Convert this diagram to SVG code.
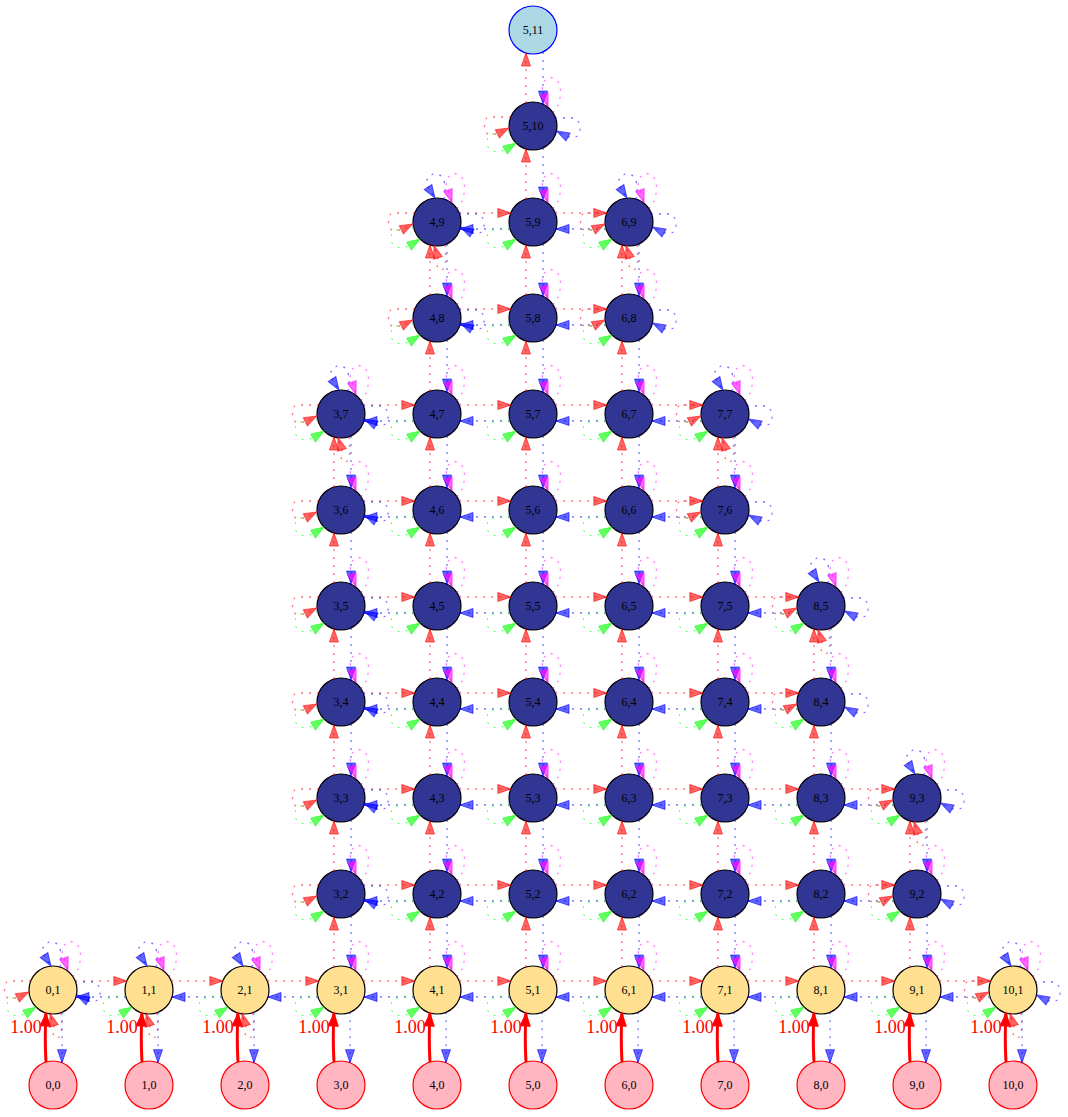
<svg xmlns="http://www.w3.org/2000/svg" xmlns:xlink="http://www.w3.org/1999/xlink" width="1068" height="1117" viewBox="0 0 1068 1117">
<style>
.e{fill:none;stroke-width:1.3;stroke-dasharray:2,6;stroke-opacity:0.55}
.r{stroke:#ff0000;marker-end:url(#mr)}
.b{stroke:#0000ff;marker-end:url(#mb)}
.g{stroke:#00ff00;marker-end:url(#mg)}
.m{stroke:#ff00ff;marker-end:url(#mm)}
.t{fill:none;stroke:#ff0000;stroke-width:3;marker-end:url(#mt)}
circle{stroke:#000;stroke-width:1.2}
.nav{fill:#313695}
.yel{fill:#fee090}
.src{fill:#ffb6c1;stroke:#ff0000}
.tgt{fill:#add8e6;stroke:#0000ff}
text{font-family:"Liberation Serif","Times New Roman",serif;font-size:12px;text-anchor:middle;fill:#000}
.lbl{fill:#ff0000;font-size:18px}
</style>
<defs>
<marker id="mr" viewBox="0 -5 13 10" refX="13" refY="0" markerWidth="13" markerHeight="10" markerUnits="userSpaceOnUse" orient="auto" overflow="visible"><path d="M0,-4.5L13,0L0,4.5Z" fill="#ff0000" fill-opacity="0.6" stroke="#ff0000" stroke-opacity="0.6"/></marker>
<marker id="mb" viewBox="0 -5 13 10" refX="13" refY="0" markerWidth="13" markerHeight="10" markerUnits="userSpaceOnUse" orient="auto" overflow="visible"><path d="M0,-4.5L13,0L0,4.5Z" fill="#0000ff" fill-opacity="0.6" stroke="#0000ff" stroke-opacity="0.6"/></marker>
<marker id="mg" viewBox="0 -5 13 10" refX="13" refY="0" markerWidth="13" markerHeight="10" markerUnits="userSpaceOnUse" orient="auto" overflow="visible"><path d="M0,-4.5L13,0L0,4.5Z" fill="#00ff00" fill-opacity="0.6" stroke="#00ff00" stroke-opacity="0.6"/></marker>
<marker id="mm" viewBox="0 -5 13 10" refX="13" refY="0" markerWidth="13" markerHeight="10" markerUnits="userSpaceOnUse" orient="auto" overflow="visible"><path d="M0,-4.5L13,0L0,4.5Z" fill="#ff00ff" fill-opacity="0.6" stroke="#ff00ff" stroke-opacity="0.6"/></marker>
<marker id="mt" viewBox="0 -5 13 10" refX="13" refY="0" markerWidth="13" markerHeight="10" markerUnits="userSpaceOnUse" orient="auto" overflow="visible"><path d="M0,-5L13,0L0,5Z" fill="#ff0000" stroke="#ff0000"/></marker>
<g id="L">
<path class="e m" d="M20,-13C30,-24 30,-46 20,-48C12,-49 9,-44 9.5,-36L15,-19.5"/>
<path class="e g" d="M-23,6C-32,6 -46,6 -46,16C-46,26 -36,27 -28,24L-17,17"/>
</g>
<g id="LE">
<path class="e r" d="M-22,-9L-44,-9C-50,-9 -50,8 -44,8L-36,8L-24,2"/>
<path class="e b" d="M22,-8L40,-8C48,-8 50,10 42,11L35,11L23.5,5"/>
</g>
<g id="LT">
<path class="e b" d="M7,-23C9,-34 9,-46 0,-48C-9,-49 -12,-42 -9,-35L-2,-24"/>
<path class="e r" d="M8,23C9,34 10,48 4,48C-1,48 0,42 1,36L-3,23.5"/>
</g>
<g id="eh">
<path class="e r" d="M22.2,-9L73.8,-9"/>
<path class="e b" d="M73,7L23,7"/>
</g>
<g id="ev">
<path class="e r" d="M-7,-23L-7,-73"/>
<path class="e b" d="M10,-74L10,-22"/>
</g>
<g id="e0">
<path class="t" d="M-7,-23C-8,-40 -8,-55 -7,-72"/>
<path class="e b" d="M9,-72.7L9,-22.3"/>
</g>
</defs>
<rect width="1068" height="1117" fill="#fff"/>
<g id="nodes">
<g id="n-0-0"><circle class="src" cx="53" cy="1085" r="24"/><text x="53" y="1089">0,0</text></g>
<g id="n-1-0"><circle class="src" cx="149" cy="1085" r="24"/><text x="149" y="1089">1,0</text></g>
<g id="n-2-0"><circle class="src" cx="245" cy="1085" r="24"/><text x="245" y="1089">2,0</text></g>
<g id="n-3-0"><circle class="src" cx="341" cy="1085" r="24"/><text x="341" y="1089">3,0</text></g>
<g id="n-4-0"><circle class="src" cx="437" cy="1085" r="24"/><text x="437" y="1089">4,0</text></g>
<g id="n-5-0"><circle class="src" cx="533" cy="1085" r="24"/><text x="533" y="1089">5,0</text></g>
<g id="n-6-0"><circle class="src" cx="629" cy="1085" r="24"/><text x="629" y="1089">6,0</text></g>
<g id="n-7-0"><circle class="src" cx="725" cy="1085" r="24"/><text x="725" y="1089">7,0</text></g>
<g id="n-8-0"><circle class="src" cx="821" cy="1085" r="24"/><text x="821" y="1089">8,0</text></g>
<g id="n-9-0"><circle class="src" cx="917" cy="1085" r="24"/><text x="917" y="1089">9,0</text></g>
<g id="n-10-0"><circle class="src" cx="1013" cy="1085" r="24"/><text x="1013" y="1089">10,0</text></g>
<g id="n-0-1"><circle class="yel" cx="53" cy="990" r="24"/><text x="53" y="994">0,1</text></g>
<g id="n-1-1"><circle class="yel" cx="149" cy="990" r="24"/><text x="149" y="994">1,1</text></g>
<g id="n-2-1"><circle class="yel" cx="245" cy="990" r="24"/><text x="245" y="994">2,1</text></g>
<g id="n-3-1"><circle class="yel" cx="341" cy="990" r="24"/><text x="341" y="994">3,1</text></g>
<g id="n-4-1"><circle class="yel" cx="437" cy="990" r="24"/><text x="437" y="994">4,1</text></g>
<g id="n-5-1"><circle class="yel" cx="533" cy="990" r="24"/><text x="533" y="994">5,1</text></g>
<g id="n-6-1"><circle class="yel" cx="629" cy="990" r="24"/><text x="629" y="994">6,1</text></g>
<g id="n-7-1"><circle class="yel" cx="725" cy="990" r="24"/><text x="725" y="994">7,1</text></g>
<g id="n-8-1"><circle class="yel" cx="821" cy="990" r="24"/><text x="821" y="994">8,1</text></g>
<g id="n-9-1"><circle class="yel" cx="917" cy="990" r="24"/><text x="917" y="994">9,1</text></g>
<g id="n-10-1"><circle class="yel" cx="1013" cy="990" r="24"/><text x="1013" y="994">10,1</text></g>
<g id="n-3-2"><circle class="nav" cx="341" cy="894" r="24"/><text x="341" y="898">3,2</text></g>
<g id="n-4-2"><circle class="nav" cx="437" cy="894" r="24"/><text x="437" y="898">4,2</text></g>
<g id="n-5-2"><circle class="nav" cx="533" cy="894" r="24"/><text x="533" y="898">5,2</text></g>
<g id="n-6-2"><circle class="nav" cx="629" cy="894" r="24"/><text x="629" y="898">6,2</text></g>
<g id="n-7-2"><circle class="nav" cx="725" cy="894" r="24"/><text x="725" y="898">7,2</text></g>
<g id="n-8-2"><circle class="nav" cx="821" cy="894" r="24"/><text x="821" y="898">8,2</text></g>
<g id="n-9-2"><circle class="nav" cx="917" cy="894" r="24"/><text x="917" y="898">9,2</text></g>
<g id="n-3-3"><circle class="nav" cx="341" cy="798" r="24"/><text x="341" y="802">3,3</text></g>
<g id="n-4-3"><circle class="nav" cx="437" cy="798" r="24"/><text x="437" y="802">4,3</text></g>
<g id="n-5-3"><circle class="nav" cx="533" cy="798" r="24"/><text x="533" y="802">5,3</text></g>
<g id="n-6-3"><circle class="nav" cx="629" cy="798" r="24"/><text x="629" y="802">6,3</text></g>
<g id="n-7-3"><circle class="nav" cx="725" cy="798" r="24"/><text x="725" y="802">7,3</text></g>
<g id="n-8-3"><circle class="nav" cx="821" cy="798" r="24"/><text x="821" y="802">8,3</text></g>
<g id="n-9-3"><circle class="nav" cx="917" cy="798" r="24"/><text x="917" y="802">9,3</text></g>
<g id="n-3-4"><circle class="nav" cx="341" cy="702" r="24"/><text x="341" y="706">3,4</text></g>
<g id="n-4-4"><circle class="nav" cx="437" cy="702" r="24"/><text x="437" y="706">4,4</text></g>
<g id="n-5-4"><circle class="nav" cx="533" cy="702" r="24"/><text x="533" y="706">5,4</text></g>
<g id="n-6-4"><circle class="nav" cx="629" cy="702" r="24"/><text x="629" y="706">6,4</text></g>
<g id="n-7-4"><circle class="nav" cx="725" cy="702" r="24"/><text x="725" y="706">7,4</text></g>
<g id="n-8-4"><circle class="nav" cx="821" cy="702" r="24"/><text x="821" y="706">8,4</text></g>
<g id="n-3-5"><circle class="nav" cx="341" cy="606" r="24"/><text x="341" y="610">3,5</text></g>
<g id="n-4-5"><circle class="nav" cx="437" cy="606" r="24"/><text x="437" y="610">4,5</text></g>
<g id="n-5-5"><circle class="nav" cx="533" cy="606" r="24"/><text x="533" y="610">5,5</text></g>
<g id="n-6-5"><circle class="nav" cx="629" cy="606" r="24"/><text x="629" y="610">6,5</text></g>
<g id="n-7-5"><circle class="nav" cx="725" cy="606" r="24"/><text x="725" y="610">7,5</text></g>
<g id="n-8-5"><circle class="nav" cx="821" cy="606" r="24"/><text x="821" y="610">8,5</text></g>
<g id="n-3-6"><circle class="nav" cx="341" cy="510" r="24"/><text x="341" y="514">3,6</text></g>
<g id="n-4-6"><circle class="nav" cx="437" cy="510" r="24"/><text x="437" y="514">4,6</text></g>
<g id="n-5-6"><circle class="nav" cx="533" cy="510" r="24"/><text x="533" y="514">5,6</text></g>
<g id="n-6-6"><circle class="nav" cx="629" cy="510" r="24"/><text x="629" y="514">6,6</text></g>
<g id="n-7-6"><circle class="nav" cx="725" cy="510" r="24"/><text x="725" y="514">7,6</text></g>
<g id="n-3-7"><circle class="nav" cx="341" cy="414" r="24"/><text x="341" y="418">3,7</text></g>
<g id="n-4-7"><circle class="nav" cx="437" cy="414" r="24"/><text x="437" y="418">4,7</text></g>
<g id="n-5-7"><circle class="nav" cx="533" cy="414" r="24"/><text x="533" y="418">5,7</text></g>
<g id="n-6-7"><circle class="nav" cx="629" cy="414" r="24"/><text x="629" y="418">6,7</text></g>
<g id="n-7-7"><circle class="nav" cx="725" cy="414" r="24"/><text x="725" y="418">7,7</text></g>
<g id="n-4-8"><circle class="nav" cx="437" cy="318" r="24"/><text x="437" y="322">4,8</text></g>
<g id="n-5-8"><circle class="nav" cx="533" cy="318" r="24"/><text x="533" y="322">5,8</text></g>
<g id="n-6-8"><circle class="nav" cx="629" cy="318" r="24"/><text x="629" y="322">6,8</text></g>
<g id="n-4-9"><circle class="nav" cx="437" cy="222" r="24"/><text x="437" y="226">4,9</text></g>
<g id="n-5-9"><circle class="nav" cx="533" cy="222" r="24"/><text x="533" y="226">5,9</text></g>
<g id="n-6-9"><circle class="nav" cx="629" cy="222" r="24"/><text x="629" y="226">6,9</text></g>
<g id="n-5-10"><circle class="nav" cx="533" cy="126" r="24"/><text x="533" y="130">5,10</text></g>
<g id="n-5-11"><circle class="tgt" cx="533" cy="30" r="24"/><text x="533" y="34">5,11</text></g>
</g>
<g id="connectors">
<use href="#e0" x="53" y="1085"/><use href="#e0" x="149" y="1085"/><use href="#e0" x="245" y="1085"/><use href="#e0" x="341" y="1085"/><use href="#e0" x="437" y="1085"/><use href="#e0" x="533" y="1085"/><use href="#e0" x="629" y="1085"/><use href="#e0" x="725" y="1085"/><use href="#e0" x="821" y="1085"/><use href="#e0" x="917" y="1085"/><use href="#e0" x="1013" y="1085"/>
<g id="edge-labels">
<text class="lbl" x="26" y="1033">1.00</text><text class="lbl" x="122" y="1033">1.00</text><text class="lbl" x="218" y="1033">1.00</text><text class="lbl" x="314" y="1033">1.00</text><text class="lbl" x="410" y="1033">1.00</text><text class="lbl" x="506" y="1033">1.00</text><text class="lbl" x="602" y="1033">1.00</text><text class="lbl" x="698" y="1033">1.00</text><text class="lbl" x="794" y="1033">1.00</text><text class="lbl" x="890" y="1033">1.00</text><text class="lbl" x="986" y="1033">1.00</text>
</g>
<use href="#eh" x="53" y="990"/><use href="#eh" x="149" y="990"/><use href="#eh" x="245" y="990"/><use href="#eh" x="341" y="990"/><use href="#eh" x="437" y="990"/><use href="#eh" x="533" y="990"/><use href="#eh" x="629" y="990"/><use href="#eh" x="725" y="990"/><use href="#eh" x="821" y="990"/><use href="#eh" x="917" y="990"/>
<use href="#eh" x="341" y="894"/><use href="#eh" x="437" y="894"/><use href="#eh" x="533" y="894"/><use href="#eh" x="629" y="894"/><use href="#eh" x="725" y="894"/><use href="#eh" x="821" y="894"/>
<use href="#eh" x="341" y="798"/><use href="#eh" x="437" y="798"/><use href="#eh" x="533" y="798"/><use href="#eh" x="629" y="798"/><use href="#eh" x="725" y="798"/><use href="#eh" x="821" y="798"/>
<use href="#eh" x="341" y="702"/><use href="#eh" x="437" y="702"/><use href="#eh" x="533" y="702"/><use href="#eh" x="629" y="702"/><use href="#eh" x="725" y="702"/>
<use href="#eh" x="341" y="606"/><use href="#eh" x="437" y="606"/><use href="#eh" x="533" y="606"/><use href="#eh" x="629" y="606"/><use href="#eh" x="725" y="606"/>
<use href="#eh" x="341" y="510"/><use href="#eh" x="437" y="510"/><use href="#eh" x="533" y="510"/><use href="#eh" x="629" y="510"/>
<use href="#eh" x="341" y="414"/><use href="#eh" x="437" y="414"/><use href="#eh" x="533" y="414"/><use href="#eh" x="629" y="414"/>
<use href="#eh" x="437" y="318"/><use href="#eh" x="533" y="318"/>
<use href="#eh" x="437" y="222"/><use href="#eh" x="533" y="222"/>
<use href="#ev" x="341" y="990"/><use href="#ev" x="437" y="990"/><use href="#ev" x="533" y="990"/><use href="#ev" x="629" y="990"/><use href="#ev" x="725" y="990"/><use href="#ev" x="821" y="990"/><use href="#ev" x="917" y="990"/>
<use href="#ev" x="341" y="894"/><use href="#ev" x="437" y="894"/><use href="#ev" x="533" y="894"/><use href="#ev" x="629" y="894"/><use href="#ev" x="725" y="894"/><use href="#ev" x="821" y="894"/><use href="#ev" x="917" y="894"/>
<use href="#ev" x="341" y="798"/><use href="#ev" x="437" y="798"/><use href="#ev" x="533" y="798"/><use href="#ev" x="629" y="798"/><use href="#ev" x="725" y="798"/><use href="#ev" x="821" y="798"/>
<use href="#ev" x="341" y="702"/><use href="#ev" x="437" y="702"/><use href="#ev" x="533" y="702"/><use href="#ev" x="629" y="702"/><use href="#ev" x="725" y="702"/><use href="#ev" x="821" y="702"/>
<use href="#ev" x="341" y="606"/><use href="#ev" x="437" y="606"/><use href="#ev" x="533" y="606"/><use href="#ev" x="629" y="606"/><use href="#ev" x="725" y="606"/>
<use href="#ev" x="341" y="510"/><use href="#ev" x="437" y="510"/><use href="#ev" x="533" y="510"/><use href="#ev" x="629" y="510"/><use href="#ev" x="725" y="510"/>
<use href="#ev" x="437" y="414"/><use href="#ev" x="533" y="414"/><use href="#ev" x="629" y="414"/>
<use href="#ev" x="437" y="318"/><use href="#ev" x="533" y="318"/><use href="#ev" x="629" y="318"/>
<use href="#ev" x="533" y="222"/>
<use href="#ev" x="533" y="126"/>
<use href="#L" x="53" y="990"/><use href="#L" x="149" y="990"/><use href="#L" x="245" y="990"/><use href="#L" x="341" y="990"/><use href="#L" x="437" y="990"/><use href="#L" x="533" y="990"/><use href="#L" x="629" y="990"/><use href="#L" x="725" y="990"/><use href="#L" x="821" y="990"/><use href="#L" x="917" y="990"/><use href="#L" x="1013" y="990"/>
<use href="#L" x="341" y="894"/><use href="#L" x="437" y="894"/><use href="#L" x="533" y="894"/><use href="#L" x="629" y="894"/><use href="#L" x="725" y="894"/><use href="#L" x="821" y="894"/><use href="#L" x="917" y="894"/>
<use href="#L" x="341" y="798"/><use href="#L" x="437" y="798"/><use href="#L" x="533" y="798"/><use href="#L" x="629" y="798"/><use href="#L" x="725" y="798"/><use href="#L" x="821" y="798"/><use href="#L" x="917" y="798"/>
<use href="#L" x="341" y="702"/><use href="#L" x="437" y="702"/><use href="#L" x="533" y="702"/><use href="#L" x="629" y="702"/><use href="#L" x="725" y="702"/><use href="#L" x="821" y="702"/>
<use href="#L" x="341" y="606"/><use href="#L" x="437" y="606"/><use href="#L" x="533" y="606"/><use href="#L" x="629" y="606"/><use href="#L" x="725" y="606"/><use href="#L" x="821" y="606"/>
<use href="#L" x="341" y="510"/><use href="#L" x="437" y="510"/><use href="#L" x="533" y="510"/><use href="#L" x="629" y="510"/><use href="#L" x="725" y="510"/>
<use href="#L" x="341" y="414"/><use href="#L" x="437" y="414"/><use href="#L" x="533" y="414"/><use href="#L" x="629" y="414"/><use href="#L" x="725" y="414"/>
<use href="#L" x="437" y="318"/><use href="#L" x="533" y="318"/><use href="#L" x="629" y="318"/>
<use href="#L" x="437" y="222"/><use href="#L" x="533" y="222"/><use href="#L" x="629" y="222"/>
<use href="#L" x="533" y="126"/>
<use href="#LE" x="53" y="990"/><use href="#LE" x="1013" y="990"/>
<use href="#LE" x="341" y="894"/><use href="#LE" x="917" y="894"/>
<use href="#LE" x="341" y="798"/><use href="#LE" x="917" y="798"/>
<use href="#LE" x="341" y="702"/><use href="#LE" x="821" y="702"/>
<use href="#LE" x="341" y="606"/><use href="#LE" x="821" y="606"/>
<use href="#LE" x="341" y="510"/><use href="#LE" x="725" y="510"/>
<use href="#LE" x="341" y="414"/><use href="#LE" x="725" y="414"/>
<use href="#LE" x="437" y="318"/><use href="#LE" x="629" y="318"/>
<use href="#LE" x="437" y="222"/><use href="#LE" x="629" y="222"/>
<use href="#LE" x="533" y="126"/>
<use href="#LT" x="53" y="990"/><use href="#LT" x="149" y="990"/><use href="#LT" x="245" y="990"/><use href="#LT" x="1013" y="990"/>
<use href="#LT" x="917" y="798"/><use href="#LT" x="821" y="606"/><use href="#LT" x="341" y="414"/><use href="#LT" x="725" y="414"/><use href="#LT" x="437" y="222"/><use href="#LT" x="629" y="222"/>
</g>
</svg>
